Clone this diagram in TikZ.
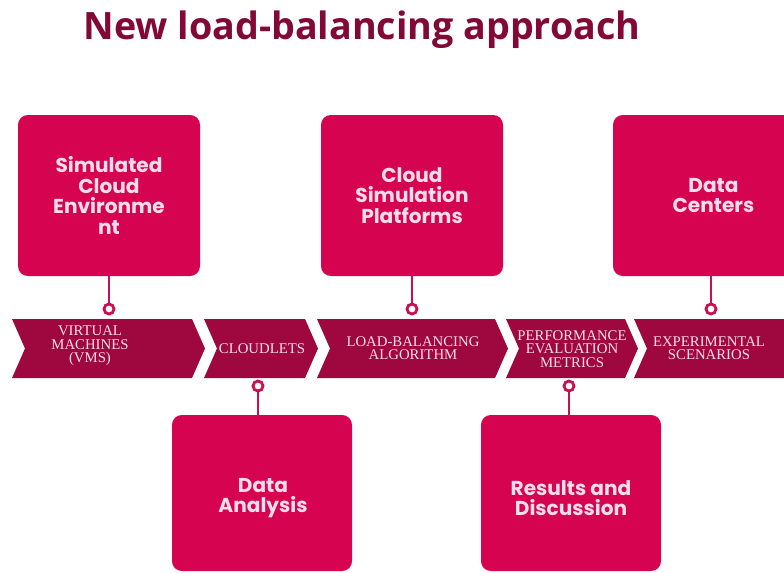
\documentclass[tikz,border=0pt]{standalone}
\usepackage{fontspec}
\setmainfont{Liberation Serif}
\newfontfamily\titlefont{Open Sans}
\newfontfamily\boxfont{Poppins}
\usetikzlibrary{positioning}
\definecolor{boxred}{RGB}{214,4,80}
\definecolor{bandred}{RGB}{158,8,62}
\definecolor{titlered}{RGB}{130,8,56}
\definecolor{boxtext}{RGB}{252,222,234}
\definecolor{pinkline}{RGB}{200,16,80}
\tikzset{
  topic/.style={fill=boxred, rounded corners=7pt, minimum width=182*0.025cm,
    text=boxtext, align=center, font=\boxfont\bfseries\fontsize{14.3}{14.6}\selectfont},
  topictext/.style={text=boxtext, align=center, font=\boxfont\bfseries\fontsize{14.3}{14.6}\selectfont},
  band/.style={fill=bandred},
  bandtext/.style={text=boxtext, align=center, inner sep=0pt,
    font=\fontsize{10.5}{9.5}\selectfont},
  knob/.style={circle, draw=pinkline, line width=2pt, fill=white,
    minimum size=10*0.025cm, inner sep=0pt},
  stem/.style={draw=pinkline, line width=2pt}
}
\begin{document}
\begin{tikzpicture}[x=0.025cm, y=-0.025cm]
    \useasboundingbox (0,0) rectangle (784,573);
    % titel
    \node[text=titlered, font=\titlefont\bfseries\fontsize{26.8}{28}\selectfont] (title) at (362,30) {New load-balancing approach};

    % bovenste vakken
    \node[topic, minimum height=161*0.025cm] (env) at (109,195.5) {Simulated\\Cloud\\Environme\\nt};
    \node[topic, minimum height=161*0.025cm] (plat) at (412,195.5) {Cloud\\Simulation\\Platforms};
    \node[topic, minimum height=161*0.025cm, minimum width=184*0.025cm] (dc) at (705,195.5) {\hspace*{12pt}Data\\\hspace*{12pt}Centers};

    % band met pijlen
    \fill[band] (12,319) -- (192,319) -- (205,348.5) -- (192,378) -- (12,378) -- (25,348.5) -- cycle;
    \fill[band] (204,319) -- (305,319) -- (318,348.5) -- (305,378) -- (204,378) -- (217,348.5) -- cycle;
    \fill[band] (317,319) -- (495,319) -- (508,348.5) -- (495,378) -- (317,378) -- (330,348.5) -- cycle;
    \fill[band] (506,319) -- (625,319) -- (638,348.5) -- (625,378) -- (506,378) -- (519,348.5) -- cycle;
    \fill[band] (634,319) -- (790,319) -- (790,378) -- (634,378) -- (647,348.5) -- cycle;

    \node[bandtext] (vms) at (90,346) {VIRTUAL\\MACHINES\\(VMS)};
    \node[bandtext] (cl) at (262,349) {CLOUDLETS};
    \node[bandtext] (lb) at (413,348) {LOAD-BALANCING\\ALGORITHM};
    \node[bandtext] (pem) at (572,349) {PERFORMANCE\\EVALUATION\\METRICS};
    \node[bandtext] (exp) at (709,348) {EXPERIMENTAL\\SCENARIOS};

    % onderste vakken
    \node[topic, minimum height=156*0.025cm, minimum width=180*0.025cm] (da) at (262,493) {};
    \node[topic, minimum height=156*0.025cm, minimum width=180*0.025cm] (rd) at (571,493) {};
    \node[topictext] (datxt) at (263,498) {Data\\Analysis};
    \node[topictext] (rdtxt) at (571,498) {Results and\\Discussion};

    % verbindingen
    \node[knob] (k1) at (109,309) {};
    \node[knob] (k2) at (412,309) {};
    \node[knob] (k3) at (711,309) {};
    \node[knob] (k4) at (258,386) {};
    \node[knob] (k5) at (569,386) {};
    \draw[stem] (env.south) -- (k1.north);
    \draw[stem] (plat.south) -- (k2.north);
    \draw[stem] (k3.north) -- (k3 |- dc.south);
    \draw[stem] (k4.south) -- (k4 |- da.north);
    \draw[stem] (k5.south) -- (k5 |- rd.north);
\end{tikzpicture}
\end{document}
